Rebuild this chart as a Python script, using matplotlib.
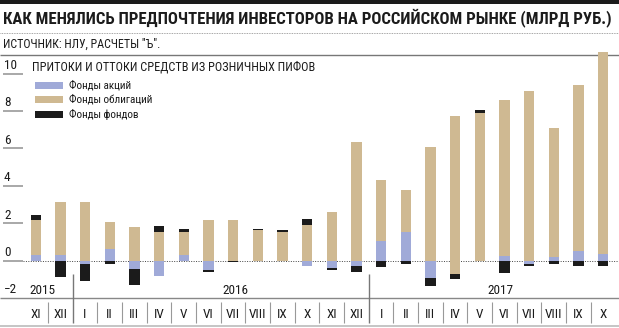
import matplotlib
matplotlib.use("Agg")
import matplotlib.pyplot as plt
from matplotlib import font_manager
from matplotlib.patches import Rectangle
from matplotlib.transforms import Affine2D
import numpy as np

# данные (млрд руб.), ноябрь 2015 - октябрь 2017
months = ["XI", "XII", "I", "II", "III", "IV", "V", "VI", "VII", "VIII", "IX", "X",
          "XI", "XII", "I", "II", "III", "IV", "V", "VI", "VII", "VIII", "IX", "X"]
years = ["2015", "2016", "2017"]
shares = [0.32, 0.29, -0.20, 0.59, -0.48, -0.82, 0.29, -0.52, 0.00, 0.00, 0.00, -0.32,
          -0.41, -0.30, 1.02, 1.52, -0.93, 0.00, 0.00, 0.23, -0.20, 0.18, 0.53, 0.34]
bonds = [1.84, 2.86, 3.15, 1.48, 1.77, 1.55, 1.26, 2.16, 2.16, 1.62, 1.50, 1.89,
         2.62, 6.34, 3.27, 2.25, 6.05, 7.74, 7.87, 8.35, 9.08, 6.89, 8.84, 10.79]
bonds_out = [0, 0, 0, 0, 0, 0, 0, 0, 0, 0, 0, 0,
             0, 0, 0, 0, 0, -0.70, 0, 0, 0, 0, 0, 0]
funds = [0.25, -0.87, -0.87, -0.18, -0.84, 0.30, 0.16, -0.10, -0.09, 0.07, 0.14, 0.34,
         -0.12, -0.29, -0.36, -0.18, -0.43, -0.27, 0.18, -0.66, -0.12, -0.20, -0.29, -0.29]
yticks = [0, 2, 4, 6, 8, 10]

names = {f.name for f in font_manager.fontManager.ttflist}
fams = [f for f in ["Roboto Condensed", "PT Sans Narrow", "Liberation Sans"] if f in names]
plt.rcParams["font.family"] = fams[:1] + ["DejaVu Sans"]

W, H = 619, 328
X0, DX = 35.7, 24.67      # пиксель центра первого столбца, шаг
Y0, DY = 260.5, 18.7      # пиксель нуля, пикселей на 1 млрд

fig = plt.figure(figsize=(W / 100, H / 100), dpi=100)
ax = fig.add_axes([0, 0, 1, 1])
ax.set_axis_off()
ax.set_xlim(-X0 / DX, (W - X0) / DX)
ax.set_ylim(-(H - Y0) / DY, Y0 / DY)

pix = Affine2D().scale(1 / W, -1 / H).translate(0, 1) + fig.transFigure
ink = "#1b1b1b"


def hline(y, x1, x2, **kw):
    ax.plot([x1, x2], [y, y], transform=pix, solid_capstyle="butt", **kw)


def vline(x, y1, y2, **kw):
    ax.plot([x, x], [y1, y2], transform=pix, solid_capstyle="butt", **kw)


# шапка
ax.add_patch(Rectangle((0, 0), W, 4, transform=pix, color=ink, lw=0))
ax.text(3, 18, "КАК МЕНЯЛИСЬ ПРЕДПОЧТЕНИЯ ИНВЕСТОРОВ НА РОССИЙСКОМ РЫНКЕ (МЛРД РУБ.)",
        transform=pix, va="center", ha="left", fontsize=12.1, fontweight="bold", color=ink)
hline(33, 0, W, color="#888888", lw=0.6, ls=(0, (1, 1)))
ax.text(3, 44, "ИСТОЧНИК: НЛУ, РАСЧЕТЫ \"Ъ\".", transform=pix, va="center",
        fontsize=8.6, color=ink)
hline(55, 0, W, color="#777777", lw=1)

# легенда
ax.text(32, 67, "ПРИТОКИ И ОТТОКИ СРЕДСТВ ИЗ РОЗНИЧНЫХ ПИФОВ", transform=pix,
        va="center", fontsize=8.8, color=ink)
colors = ["#a0aad8", "#cfb992", ink]
labels = ["Фонды акций", "Фонды облигаций", "Фонды фондов"]
for k, (c, lab) in enumerate(zip(colors, labels)):
    yc = 85 + 14.5 * k
    ax.add_patch(Rectangle((35, yc - 3.5), 28, 7, transform=pix, color=c, lw=0))
    ax.text(69, yc, lab, transform=pix, va="center", fontsize=8, color=ink)

# ось Y
for v in yticks:
    y = Y0 - DY * v
    hline(y, 3, 23, color="#999999", lw=1.2)
    ax.text(4, y - 1.5, str(v), transform=pix, va="bottom", ha="left", fontsize=9.5, color=ink)
hline(Y0, 23, W, color="#444444", lw=0.7, ls=(0, (1, 1.5)))
hline(Y0 + 2 * DY, 0, W, color="#888888", lw=1)
ax.text(4, Y0 + 2 * DY - 1.5, "\u22122", transform=pix, va="bottom", ha="left",
        fontsize=9.5, color=ink)
hline(326, 0, W, color="#bbbbbb", lw=1.2)

# подписи месяцев и годов
for i, m in enumerate(months):
    ax.text(X0 + DX * i, 315, m, transform=pix, ha="center", va="center", fontsize=9.5, color=ink)
for i in range(len(months) - 1):
    xm = X0 + DX * (i + 0.5)
    if months[i + 1] == "I":
        vline(xm, 274, 323, color="#777777", lw=1)
    else:
        vline(xm, 302, 323, color="#999999", lw=0.8)
for yr, xc in zip(years, [42, 235, 500]):
    ax.text(xc, 290, yr, transform=pix, ha="center", va="center", fontsize=9.5, color=ink)

# столбцы
x = np.arange(len(months))
pos = np.zeros(len(months))
neg = np.zeros(len(months))
for series, c in [(shares, colors[0]), (bonds, colors[1]), (bonds_out, colors[1]),
                  (funds, colors[2])]:
    s = np.array(series, dtype=float)
    p = np.where(s > 0, s, 0)
    n = np.where(s < 0, s, 0)
    ax.bar(x, p, bottom=pos, width=0.42, color=c, lw=0, zorder=3)
    ax.bar(x, n, bottom=neg, width=0.42, color=c, lw=0, zorder=3)
    pos += p
    neg += n

fig.savefig("out.png", dpi=100)
